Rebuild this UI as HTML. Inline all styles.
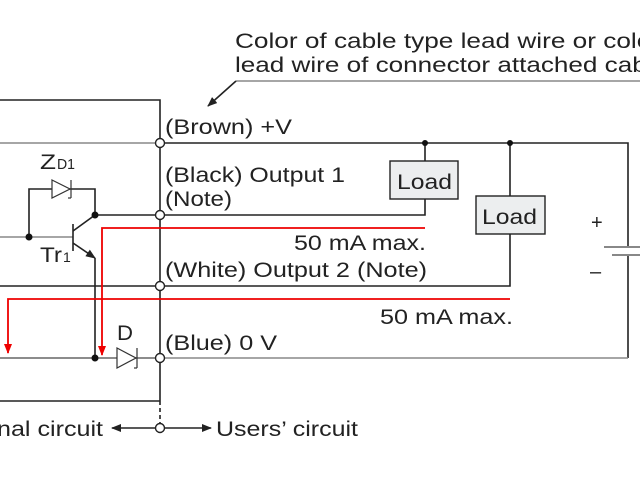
<!DOCTYPE html>
<html><head><style>
html,body{margin:0;padding:0;background:#fff;}
svg{display:block;}
text{font-family:"Liberation Sans",sans-serif;fill:#222;}
</style></head><body>
<svg width="640" height="480" viewBox="0 0 640 480">
<defs>
<marker id="ar" markerWidth="10" markerHeight="8" refX="9" refY="4" orient="auto" markerUnits="userSpaceOnUse"><path d="M0,0 L10,4 L0,8 z" fill="#222"/></marker>
<marker id="rr" markerWidth="10" markerHeight="8" refX="9" refY="4" orient="auto" markerUnits="userSpaceOnUse"><path d="M0,0 L10,4 L0,8 z" fill="#e00"/></marker>
</defs>
<g stroke="#222" stroke-width="1.6" fill="none">
<polyline points="0,100 160,100 160,138"/>
<line x1="0" y1="143" x2="155" y2="143" stroke="#888"/>
<polyline points="165,143 628,143 628,247"/>
<line x1="628" y1="255" x2="628" y2="358"/>
<line x1="604" y1="247" x2="640" y2="247" stroke="#888" stroke-width="2"/>
<line x1="612" y1="255" x2="640" y2="255" stroke="#888" stroke-width="2"/>
<line x1="160" y1="148" x2="160" y2="210"/>
<line x1="160" y1="220" x2="160" y2="281"/>
<line x1="160" y1="291" x2="160" y2="353"/>
<line x1="160" y1="363" x2="160" y2="401"/>
<line x1="160" y1="401" x2="160" y2="423" stroke-dasharray="4,3"/>
<line x1="0" y1="401" x2="160" y2="401"/>
<polyline points="95,215 155,215"/>
<polyline points="165,215 425,215 425,199"/>
<line x1="425" y1="161" x2="425" y2="143"/>
<line x1="0" y1="286" x2="155" y2="286"/>
<polyline points="165,286 510,286 510,234"/>
<line x1="510" y1="196" x2="510" y2="143"/>
<line x1="0" y1="358" x2="155" y2="358" stroke="#666"/>
<line x1="165" y1="358" x2="628" y2="358" stroke="#888"/>
<polyline points="29,237 29,189 95,189 95,215"/>
<line x1="0" y1="237" x2="73" y2="237" stroke="#888"/>
<line x1="73" y1="224" x2="73" y2="251"/>
<line x1="73" y1="231" x2="95" y2="215"/>
<line x1="73" y1="243" x2="95" y2="258" marker-end="url(#ar)"/>
<line x1="95" y1="258" x2="95" y2="358"/>
<line x1="155" y1="428" x2="112" y2="428" marker-end="url(#ar)"/>
<line x1="165" y1="428" x2="211" y2="428" marker-end="url(#ar)"/>
<line x1="236" y1="81" x2="640" y2="81" stroke="#888"/>
<line x1="236" y1="81" x2="208" y2="106" marker-end="url(#ar)"/>
</g>
<g stroke="#333" stroke-width="1.2" fill="#fff">
<path d="M52,180 L70,189 L52,198 Z"/><line x1="71" y1="180" x2="71" y2="198"/><line x1="71" y1="198" x2="68" y2="198"/>
<path d="M117,348 L136,358 L117,368 Z"/><line x1="137" y1="348" x2="137" y2="368"/><line x1="137" y1="368" x2="134" y2="368"/>
</g>
<g fill="#111"><circle cx="29" cy="237" r="3.5"/><circle cx="95" cy="215" r="3.5"/><circle cx="95" cy="358" r="3.5"/><circle cx="425" cy="143" r="3"/><circle cx="510" cy="143" r="3"/></g>
<g fill="#fff" stroke="#222" stroke-width="1.4">
<circle cx="160" cy="143" r="4.5"/><circle cx="160" cy="215" r="4.5"/><circle cx="160" cy="286" r="4.5"/><circle cx="160" cy="358" r="4.5"/><circle cx="160" cy="428" r="4.5"/>
</g>
<rect x="390" y="161" width="68" height="38" fill="#eceeef" stroke="#222" stroke-width="1.4"/>
<rect x="476" y="196" width="69" height="38" fill="#eceeef" stroke="#222" stroke-width="1.4"/>
<text x="397" y="189" font-size="21" textLength="55" lengthAdjust="spacingAndGlyphs">Load</text>
<text x="482" y="224" font-size="21" textLength="55" lengthAdjust="spacingAndGlyphs">Load</text>
<g stroke="#e00" stroke-width="1.8" fill="none">
<polyline points="425,228 102,228 102,355" marker-end="url(#rr)"/>
<polyline points="510,299 8,299 8,353" marker-end="url(#rr)"/>
</g>
<g font-size="21">
<text x="235" y="48" textLength="425" lengthAdjust="spacingAndGlyphs">Color of cable type lead wire or color</text>
<text x="235" y="72" textLength="432" lengthAdjust="spacingAndGlyphs">lead wire of connector attached cable</text>
<text x="165" y="134" textLength="127" lengthAdjust="spacingAndGlyphs">(Brown) +V</text>
<text x="165" y="182" textLength="180" lengthAdjust="spacingAndGlyphs">(Black) Output 1</text>
<text x="165" y="206" textLength="67" lengthAdjust="spacingAndGlyphs">(Note)</text>
<text x="294" y="250" textLength="132" lengthAdjust="spacingAndGlyphs">50 mA max.</text>
<text x="165" y="277" textLength="262" lengthAdjust="spacingAndGlyphs">(White) Output 2 (Note)</text>
<text x="380" y="324" textLength="133" lengthAdjust="spacingAndGlyphs">50 mA max.</text>
<text x="165" y="350" textLength="112" lengthAdjust="spacingAndGlyphs">(Blue) 0 V</text>
<text x="117" y="340" textLength="16" lengthAdjust="spacingAndGlyphs">D</text>
<text x="40" y="169" textLength="16" lengthAdjust="spacingAndGlyphs">Z</text>
<text x="40" y="262" textLength="22" lengthAdjust="spacingAndGlyphs">Tr</text>
<text x="-3" y="436" textLength="106" lengthAdjust="spacingAndGlyphs">nal circuit</text>
<text x="216" y="436" textLength="142" lengthAdjust="spacingAndGlyphs">Users’ circuit</text>
</g>
<text x="57" y="169" font-size="15" textLength="18" lengthAdjust="spacingAndGlyphs">D1</text>
<text x="63" y="262" font-size="14">1</text>
<text x="591" y="229" font-size="20">+</text>
<text x="590" y="278" font-size="20">–</text>
</svg>
</body></html>
